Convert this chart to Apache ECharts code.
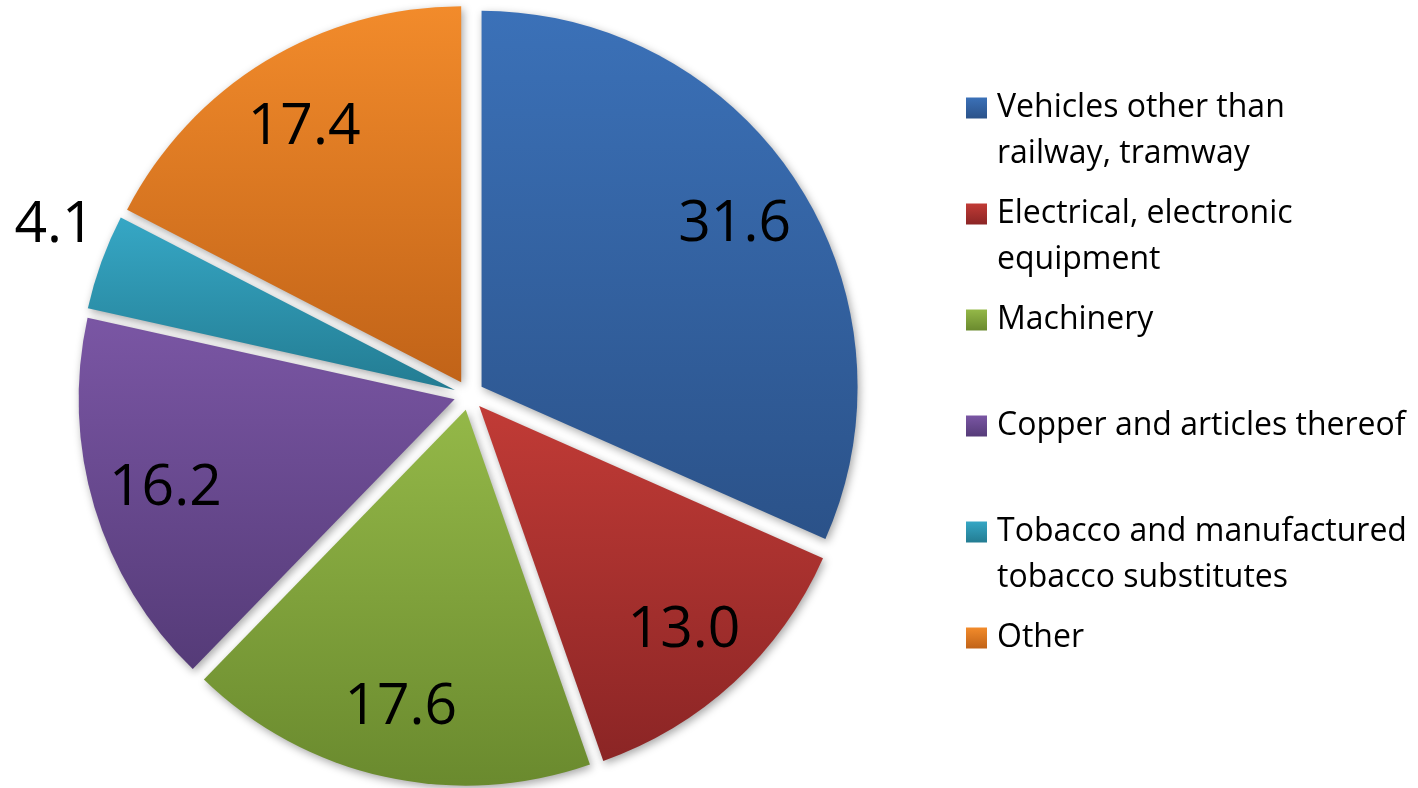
<!DOCTYPE html>
<html>
<head>
<meta charset="utf-8">
<title>Export structure</title>
<script src="https://cdn.jsdelivr.net/npm/echarts@6/dist/echarts.min.js"></script>
<style>
  html, body { margin: 0; padding: 0; background: #fff; }
  #chart { width: 1418px; height: 788px; }
</style>
</head>
<body>
<div id="chart"></div>
<script>
// Product groups and their shares (%)
const categories = [
  'Vehicles other than railway, tramway',
  'Electrical, electronic equipment',
  'Machinery',
  'Copper and articles thereof',
  'Tobacco and manufactured tobacco substitutes',
  'Other'
];
const values = [31.6, 13.0, 17.6, 16.2, 4.1, 17.4];

// Legend line breaks
const legendText = {
  'Vehicles other than railway, tramway': 'Vehicles other than\nrailway, tramway',
  'Electrical, electronic equipment': 'Electrical, electronic\nequipment',
  'Tobacco and manufactured tobacco substitutes': 'Tobacco and manufactured\ntobacco substitutes'
};

// Slice gradients: light top, dark bottom
const topColors = ['#3b71b8', '#c13b36', '#94b848', '#7a56a4', '#36a7c5', '#f28b2b'];
const bottomColors = ['#2b5289', '#8b2525', '#6a8a2e', '#553b78', '#237c92', '#c16318'];

const R = 376;
const CENTER = [469, 395];
const EXPLODE = 15;
const FONT = 'Open Sans';
const LEGEND_LINE = 46;

function grad(i) {
  return new echarts.graphic.LinearGradient(0, 0, 0, 1, [
    { offset: 0, color: topColors[i] },
    { offset: 1, color: bottomColors[i] }
  ]);
}

const sliceData = categories.map((name, i) => ({
  name,
  value: values[i],
  selected: true,
  itemStyle: { color: grad(i) }
}));

// transparent rings that carry the value labels
const insideLabelData = categories.map((name, i) => ({
  name,
  value: values[i],
  selected: true,
  label: { show: i !== 4 }
}));
const outsideLabelData = categories.map((name, i) => ({
  name,
  value: values[i],
  selected: true,
  label: { show: i === 4 }
}));

const labelStyle = {
  position: 'inside',
  formatter: p => p.value.toFixed(1),
  fontFamily: FONT,
  fontSize: 57,
  color: '#000'
};

const common = {
  type: 'pie',
  center: CENTER,
  startAngle: 90,
  clockwise: true,
  selectedMode: 'multiple',
  selectedOffset: EXPLODE,
  avoidLabelOverlap: false,
  labelLine: { show: false },
  emphasis: { disabled: true }
};

const chart = echarts.init(document.getElementById('chart'), null, { renderer: 'canvas' });
chart.setOption({
  animation: false,
  backgroundColor: '#fff',
  legend: {
    orient: 'vertical',
    left: 966,
    top: 108 - 1.5 * LEGEND_LINE,
    padding: 0,
    itemWidth: 21,
    itemHeight: 21,
    // every entry is three text lines tall; the first line sits beside the swatch
    itemGap: 106 - 3 * LEGEND_LINE,
    icon: 'rect',
    selectedMode: false,
    data: categories,
    formatter: name => {
      const t = legendText[name] || name;
      return ' \n' + (t.indexOf('\n') >= 0 ? t : t + '\n ');
    },
    textStyle: {
      fontFamily: FONT,
      fontSize: 32,
      color: '#000',
      lineHeight: LEGEND_LINE,
      padding: [0, 0, 0, 5]
    }
  },
  series: [
    Object.assign({}, common, {
      name: 'slices',
      radius: [0, R],
      data: sliceData,
      label: { show: false },
      itemStyle: {
        borderWidth: 0,
        shadowBlur: 8,
        shadowOffsetX: 2,
        shadowOffsetY: 3,
        shadowColor: 'rgba(0,0,0,0.35)'
      }
    }),
    Object.assign({}, common, {
      name: 'values',
      radius: [R * 0.59, R],
      silent: true,
      z: 3,
      data: insideLabelData,
      itemStyle: { color: 'rgba(0,0,0,0)', borderWidth: 0 },
      label: labelStyle,
      labelLayout: { hideOverlap: false, dy: 3 }
    }),
    Object.assign({}, common, {
      name: 'values-outer',
      radius: [R * 1.07, R * 1.23],
      silent: true,
      z: 3,
      data: outsideLabelData,
      itemStyle: { color: 'rgba(0,0,0,0)', borderWidth: 0 },
      label: labelStyle,
      labelLayout: { hideOverlap: false, dx: 9, dy: -16 }
    })
  ]
});
</script>
</body>
</html>
